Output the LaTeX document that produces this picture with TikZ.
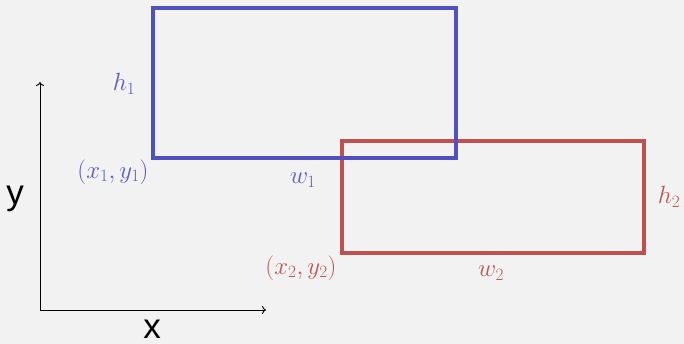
\documentclass[tikz,border=0pt]{standalone}
\usepackage{fontspec}
\newfontfamily\axfont{Liberation Sans}
\usetikzlibrary{arrows.meta}
\definecolor{bg}{HTML}{F2F2F2}
\definecolor{bluebox}{HTML}{5050C0}
\definecolor{redbox}{HTML}{C05050}
\definecolor{bluetxt}{HTML}{5A5AC8}
\definecolor{redtxt}{HTML}{C05555}
\begin{document}
\begin{tikzpicture}[x=1pt,y=-1pt,
  boxline/.style={line width=4pt},
  lbl/.style={inner sep=0pt,font=\fontsize{23}{27}\selectfont},
  axlbl/.style={inner sep=0pt,font=\axfont\fontsize{35}{40}\selectfont},
  axis/.style={line width=0.9pt,-{To[length=4pt,width=8pt]}}]
\fill[bg] (0,0) rectangle (684,344);
\useasboundingbox (0,0) rectangle (684,344);
% axes
\coordinate (o) at (40,310);
\coordinate (ytop) at (40,82);
\coordinate (xend) at (266,310);
\draw[axis] (o) -- (ytop);
\draw[axis] (o) -- (xend);
\node[axlbl] (ylab) at (15,199) {y};
\node[axlbl] (xlab) at (152,329) {x};
% red box
\draw[boxline,redbox] (342,141) rectangle (644,253);
% blue box
\draw[boxline,bluebox] (153,8) rectangle (456,158);
% labels
\node[lbl,text=bluetxt] (h1) at (124,84) {$h_1$};
\node[lbl,text=bluetxt] (p1) at (113,172) {$(x_1,y_1)$};
\node[lbl,text=bluetxt] (w1) at (303,180) {$w_1$};
\node[lbl,text=redtxt] (p2) at (301,268) {$(x_2,y_2)$};
\node[lbl,text=redtxt] (w2) at (491,273) {$w_2$};
\node[lbl,text=redtxt] (h2) at (669,197) {$h_2$};
\end{tikzpicture}
\end{document}
